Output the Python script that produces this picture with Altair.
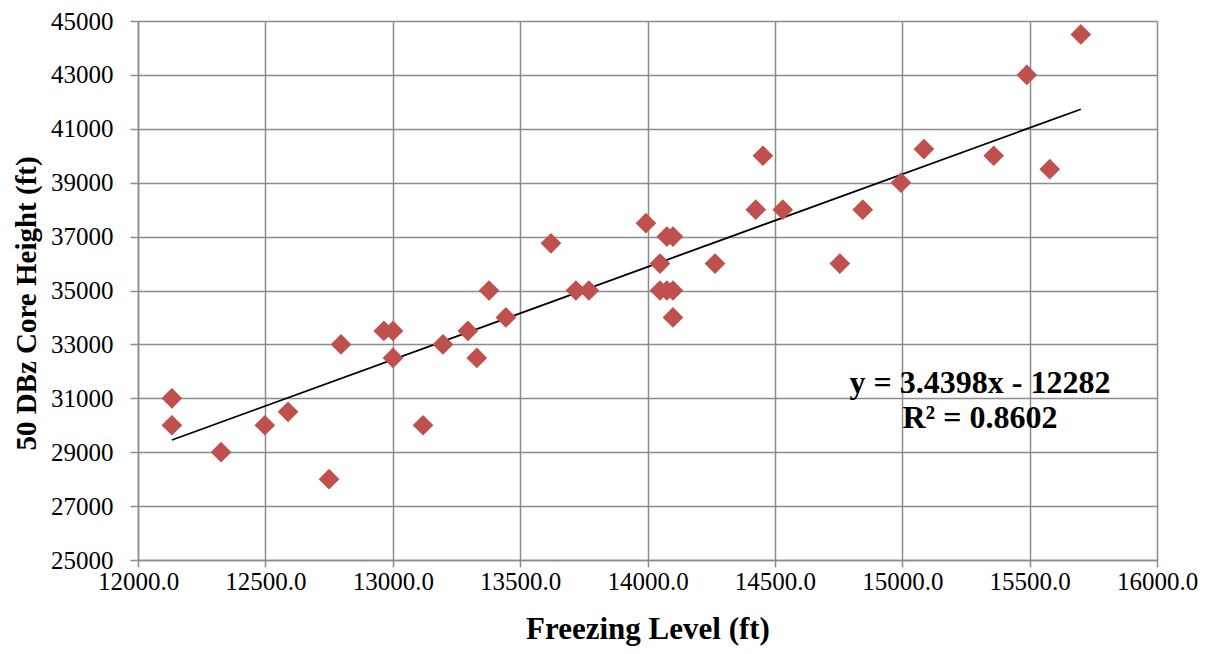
import altair as alt
import pandas as pd

# Freezing level (ft) and 50 dBZ core height (ft)
freezing_level = [
    12133, 12133, 12326, 12498, 12589, 12750, 12797, 12965, 13001, 13001,
    13119, 13197, 13295, 13330, 13378, 13444, 13621, 13719, 13770, 13994,
    14049, 14049, 14076, 14100, 14076, 14100, 14100, 14265, 14425, 14453,
    14531, 14755, 14845, 14995, 15085, 15359, 15489, 15579, 15701,
]
core_height = [
    31000, 30000, 29000, 30000, 30500, 28000, 33000, 33500, 33500, 32500,
    30000, 33000, 33500, 32500, 35000, 34000, 36750, 35000, 35000, 37500,
    36000, 35000, 35000, 35000, 37000, 37000, 34000, 36000, 38000, 40000,
    38000, 36000, 38000, 39000, 40250, 40000, 43000, 39500, 44500,
]

# Trend line as given in the chart's annotation
SLOPE = 3.4398
INTERCEPT = -12282
annotation_lines = ["y = 3.4398x - 12282", "R² = 0.8602"]
annotation_x = [15305, 15305]
annotation_y = [31200, 29880]

x_ticks = [12000, 12500, 13000, 13500, 14000, 14500, 15000, 15500, 16000]
y_ticks = [25000, 27000, 29000, 31000, 33000, 35000, 37000, 39000, 41000, 43000, 45000]

FONT = "Liberation Serif"
GRID = "#8c8c8c"

points = pd.DataFrame({"x": freezing_level, "y": core_height})
x_min, x_max = min(freezing_level), max(freezing_level)
trend = pd.DataFrame({
    "x": [x_min, x_max],
    "y": [SLOPE * x_min + INTERCEPT, SLOPE * x_max + INTERCEPT],
})
notes = pd.DataFrame({"x": annotation_x, "y": annotation_y, "t": annotation_lines})

xscale = alt.Scale(domain=[12000, 16000], nice=False, zero=False)
yscale = alt.Scale(domain=[25000, 45000], nice=False, zero=False)

xaxis = alt.Axis(
    title="Freezing Level (ft)", values=x_ticks, format=".1f",
    labelFont=FONT, labelFontSize=25, labelColor="#000000", labelPadding=2,
    titleFont=FONT, titleFontSize=31, titleFontWeight="bold", titleColor="#000000",
    titleY=78, titleBaseline="alphabetic",
    grid=True, gridColor=GRID, gridWidth=1.5, gridOpacity=1,
    domainColor=GRID, domainWidth=1.5, tickColor=GRID, tickWidth=1.5, tickSize=7,
    labelFlush=False, labelOverlap=False,
)
yaxis = alt.Axis(
    title="50 DBz Core Height (ft)", values=y_ticks, format="d",
    labelFont=FONT, labelFontSize=25, labelColor="#000000", labelPadding=17,
    titleFont=FONT, titleFontSize=29, titleFontWeight="bold", titleColor="#000000",
    titleX=-103, titleY=282, titleAlign="center", titleBaseline="alphabetic",
    grid=True, gridColor=GRID, gridWidth=1.5, gridOpacity=1,
    domainColor=GRID, domainWidth=1.5, tickColor=GRID, tickWidth=1.5, tickSize=8,
    labelFlush=False, labelOverlap=False,
)

scatter = alt.Chart(points).mark_point(
    shape="diamond", filled=True, size=430, color="#C0504D", opacity=1
).encode(
    x=alt.X("x:Q", scale=xscale, axis=xaxis),
    y=alt.Y("y:Q", scale=yscale, axis=yaxis),
)

line = alt.Chart(trend).mark_line(color="#000000", strokeWidth=1.8).encode(
    x=alt.X("x:Q", scale=xscale),
    y=alt.Y("y:Q", scale=yscale),
)

text = alt.Chart(notes).mark_text(
    font=FONT, fontSize=32, fontWeight="bold", color="#000000",
    align="center", baseline="alphabetic",
).encode(
    x=alt.X("x:Q", scale=xscale),
    y=alt.Y("y:Q", scale=yscale),
    text="t:N",
)

chart = alt.layer(line, scatter, text).properties(
    width=1019, height=539,
    autosize="none",
    padding={"left": 130, "top": 13, "right": 45, "bottom": 90},
).configure_view(stroke=None).configure(background="#ffffff")

chart.save("out.html", embed_options={"renderer": "svg", "actions": False})
